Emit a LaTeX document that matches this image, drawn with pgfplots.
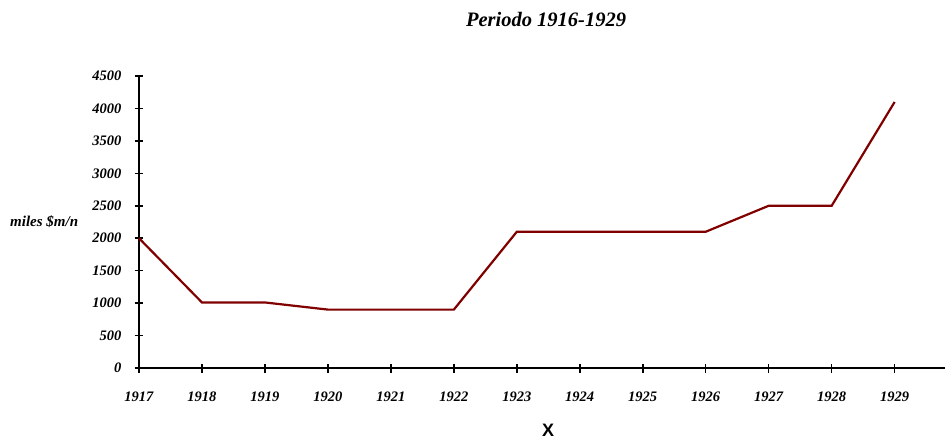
\documentclass[border=0pt]{standalone}
\usepackage{fontspec}
\setmainfont{Liberation Serif}
\newfontfamily\arialfont{Liberation Sans}
\usepackage{pgfplots}
\pgfplotsset{compat=1.18}
\begin{document}
\begin{tikzpicture}[x=1bp,y=1bp]
\begin{axis}[
  at={(0,0)}, anchor=south west,
  scale only axis, width=806bp, height=292bp,
  xmin=1917, xmax=1929.8, ymin=0, ymax=4500,
  axis x line*=bottom, axis y line*=left,
  axis line style={-, line width=1.6bp, black},
  xtick={1917,...,1929}, ytick={0,500,...,4500},
  tick align=center, major tick length=9bp,
  tick style={line width=1.6bp, black},
  /pgf/number format/assume math mode=true,
  /pgf/number format/1000 sep={},
  ticklabel style={font=\fontsize{14.5bp}{16bp}\selectfont\bfseries\itshape},
  yticklabel style={anchor=east, inner sep=0pt, xshift=-13bp},
  xticklabel style={anchor=center, inner sep=0pt, yshift=-24bp},
  clip=false,
]
\addplot[color={rgb,255:red,128;green,0;blue,0}, line width=2.2bp] coordinates {
(1917,2000) (1918,1010) (1919,1010) (1920,900) (1921,900) (1922,900)
(1923,2100) (1924,2100) (1925,2100) (1926,2100) (1927,2500) (1928,2500) (1929,4100)
};
\end{axis}
\node[font=\fontsize{20.5bp}{22bp}\selectfont\bfseries\itshape] at (407,349) {Periodo 1916-1929};
\node[anchor=west, inner sep=0pt, font=\fontsize{15bp}{17bp}\selectfont\bfseries\itshape] at (-129,146) {miles \$m/n};
\node[font=\fontsize{18bp}{20bp}\selectfont\arialfont\bfseries] at (409,-62) {X};
\path[use as bounding box] (-139,-70) rectangle (809,368);
\end{tikzpicture}
\end{document}
